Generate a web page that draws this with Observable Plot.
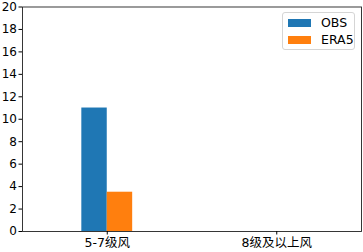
<!DOCTYPE html>
<html><head><meta charset="utf-8">
<script src="https://cdn.jsdelivr.net/npm/d3@7"></script>
<script src="https://cdn.jsdelivr.net/npm/@observablehq/plot@0.6"></script>
<style>
body{margin:0;background:#fff;font-family:"DejaVu Sans","Noto Sans CJK SC",sans-serif;}
#wrap{position:relative;width:363px;height:252px;}
#legend{position:absolute;left:282px;top:12px;width:71px;height:36px;border:1px solid #d5d5d5;border-radius:3px;background:rgba(255,255,255,0.8);font-size:12.5px;color:#000;}
.li{position:absolute;left:5px;display:flex;align-items:center;line-height:14px;}
.sw{width:23px;height:8px;margin-right:10px;}
</style></head>
<body><div id="wrap"><div id="legend"></div></div>
<script>
const categories = ["5-7级风", "8级及以上风"];
const series = ["OBS", "ERA5"];
const obs = [11, 0];
const era5 = [3.5, 0];
const colors = ["#1f77b4", "#ff7f0e"];
const yTicks = [0,2,4,6,8,10,12,14,16,18,20];

const barW = 0.15;
const data = [];
categories.forEach((c,i)=>{
  data.push({cat:c, i, s:"OBS", v:obs[i], x1:i-barW, x2:i});
  data.push({cat:c, i, s:"ERA5", v:era5[i], x1:i, x2:i+barW});
});

const chart = Plot.plot({
  width:363, height:252,
  marginLeft:22, marginRight:2, marginTop:6.5, marginBottom:21,
  style:{fontFamily:'"DejaVu Sans","Noto Sans CJK SC",sans-serif', fontSize:"12px", color:"#000", background:"#fff", overflow:"visible"},
  x:{domain:[-0.5,1.5], ticks:[0,1], tickFormat:d=>categories[d], label:null, tickSize:3.5, tickPadding:3},
  y:{domain:[0,20], ticks:yTicks, label:null, tickSize:3.5, tickPadding:2},
  color:{domain:series, range:colors},
  marks:[
    Plot.rectY(data.filter(d=>d.v>0), {x1:"x1", x2:"x2", y1:0, y2:"v", fill:"s"}),
    Plot.frame({stroke:"#222", strokeWidth:0.9}),
    Plot.axisX({ticks:[0,1], tickFormat:d=>categories[d], tickSize:3.5, tickPadding:3, fontSize:12.5}),
    Plot.axisY({ticks:yTicks, tickSize:3.5, tickPadding:2, fontSize:12})
  ]
});
document.getElementById("wrap").prepend(chart);
const lg = document.getElementById("legend");
series.forEach((s,k)=>{
  const d = document.createElement("div");
  d.className="li"; d.style.top=(3+k*17)+"px";
  d.innerHTML = `<span class="sw" style="background:${colors[k]}"></span><span>${s}</span>`;
  lg.appendChild(d);
});
</script></body></html>
